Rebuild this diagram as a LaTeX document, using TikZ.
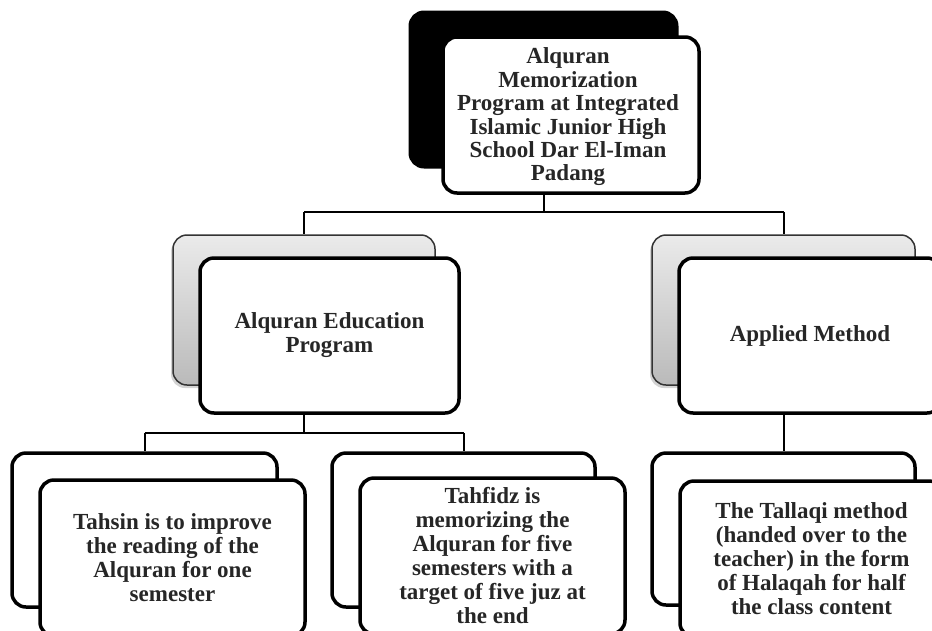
\documentclass[tikz,border=0pt]{standalone}
\usepackage{fontspec}
\setmainfont{Liberation Serif}
\usetikzlibrary{shadows,calc}
\begin{document}
\begin{tikzpicture}[x=1pt,y=-1pt,
  boxtext/.style={align=center, font=\bfseries\fontsize{23}{24}\selectfont, inner sep=0pt, text=black!85},
  frontbox/.style={boxtext, draw=black, line width=3.5pt, fill=white, rounded corners=14pt},
  darkback/.style={draw=black, line width=3pt, fill=black, rounded corners=14pt, inner sep=0pt},
  greyback/.style={draw=black!80, line width=1.5pt, top color=black!8, bottom color=black!27, rounded corners=14pt, inner sep=0pt,
     drop shadow={shadow xshift=-2pt, shadow yshift=-3pt, opacity=0.35}},
  whiteback/.style={draw=black, line width=3.5pt, fill=white, rounded corners=14pt, inner sep=0pt},
  conn/.style={draw=black, line width=2pt}]
\useasboundingbox (0,0) rectangle (932,630);
\clip (0,0) rectangle (932,630);

% top
\node[darkback, minimum width=267pt, minimum height=155pt] (topb) at (543.5,89.5) {};
\node[frontbox, minimum width=256pt, minimum height=156pt] (topf) at (571,115) {};
\node[boxtext, font=\bfseries\fontsize{23}{23.4}\selectfont] (toptext) at (568,117)
  {Alquran\\Memorization\\Program at Integrated\\Islamic Junior High\\School Dar El-Iman\\Padang};

% middle row
\node[greyback, minimum width=262pt, minimum height=150pt] (edub) at (304,310) {};
\node[frontbox, minimum width=259pt, minimum height=155pt] (eduf) at (329.5,335.5)
  {Alquran Education\\Program};
\node[greyback, minimum width=263pt, minimum height=150pt] (appb) at (783.5,310) {};
\node[frontbox, minimum width=262pt, minimum height=155pt] (appf) at (810,335.5)
  {Applied Method};

% bottom row
\node[whiteback, minimum width=265pt, minimum height=154pt] (tsb) at (144.5,530) {};
\node[frontbox, minimum width=265pt, minimum height=156pt] (tsf) at (172.5,558)
  {Tahsin is to improve\\the reading of the\\Alquran for one\\semester};
\node[whiteback, minimum width=263pt, minimum height=154pt] (tfb) at (463.5,530) {};
\node[frontbox, minimum width=265pt, minimum height=156pt] (tff) at (492.5,556)
  {Tahfidz is\\memorizing the\\Alquran for five\\semesters with a\\target of five juz at\\the end};
\node[whiteback, minimum width=263pt, minimum height=152pt] (tlb) at (783.5,529) {};
\node[frontbox, minimum width=263pt, minimum height=156pt] (tlf) at (811.5,559)
  {The Tallaqi method\\(handed over to the\\teacher) in the form\\of Halaqah for half\\the class content};

% connectors
\coordinate (h1) at (543,212);
\coordinate (h2) at (304,433);
\draw[conn] (topb.center |- topf.south) -- (topb.center |- h1);
\draw[conn] (edub.north |- h1) -- (appb.north |- h1);
\draw[conn] (edub.north |- h1) -- (edub.north);
\draw[conn] (appb.north |- h1) -- (appb.north);
\draw[conn] (edub.center |- eduf.south) -- (h2);
\draw[conn] (tsb.north |- h2) -- (tfb.north |- h2);
\draw[conn] (tsb.north |- h2) -- (tsb.north);
\draw[conn] (tfb.north |- h2) -- (tfb.north);
\draw[conn] (appb.center |- appf.south) -- (tlb.north);
\end{tikzpicture}
\end{document}
